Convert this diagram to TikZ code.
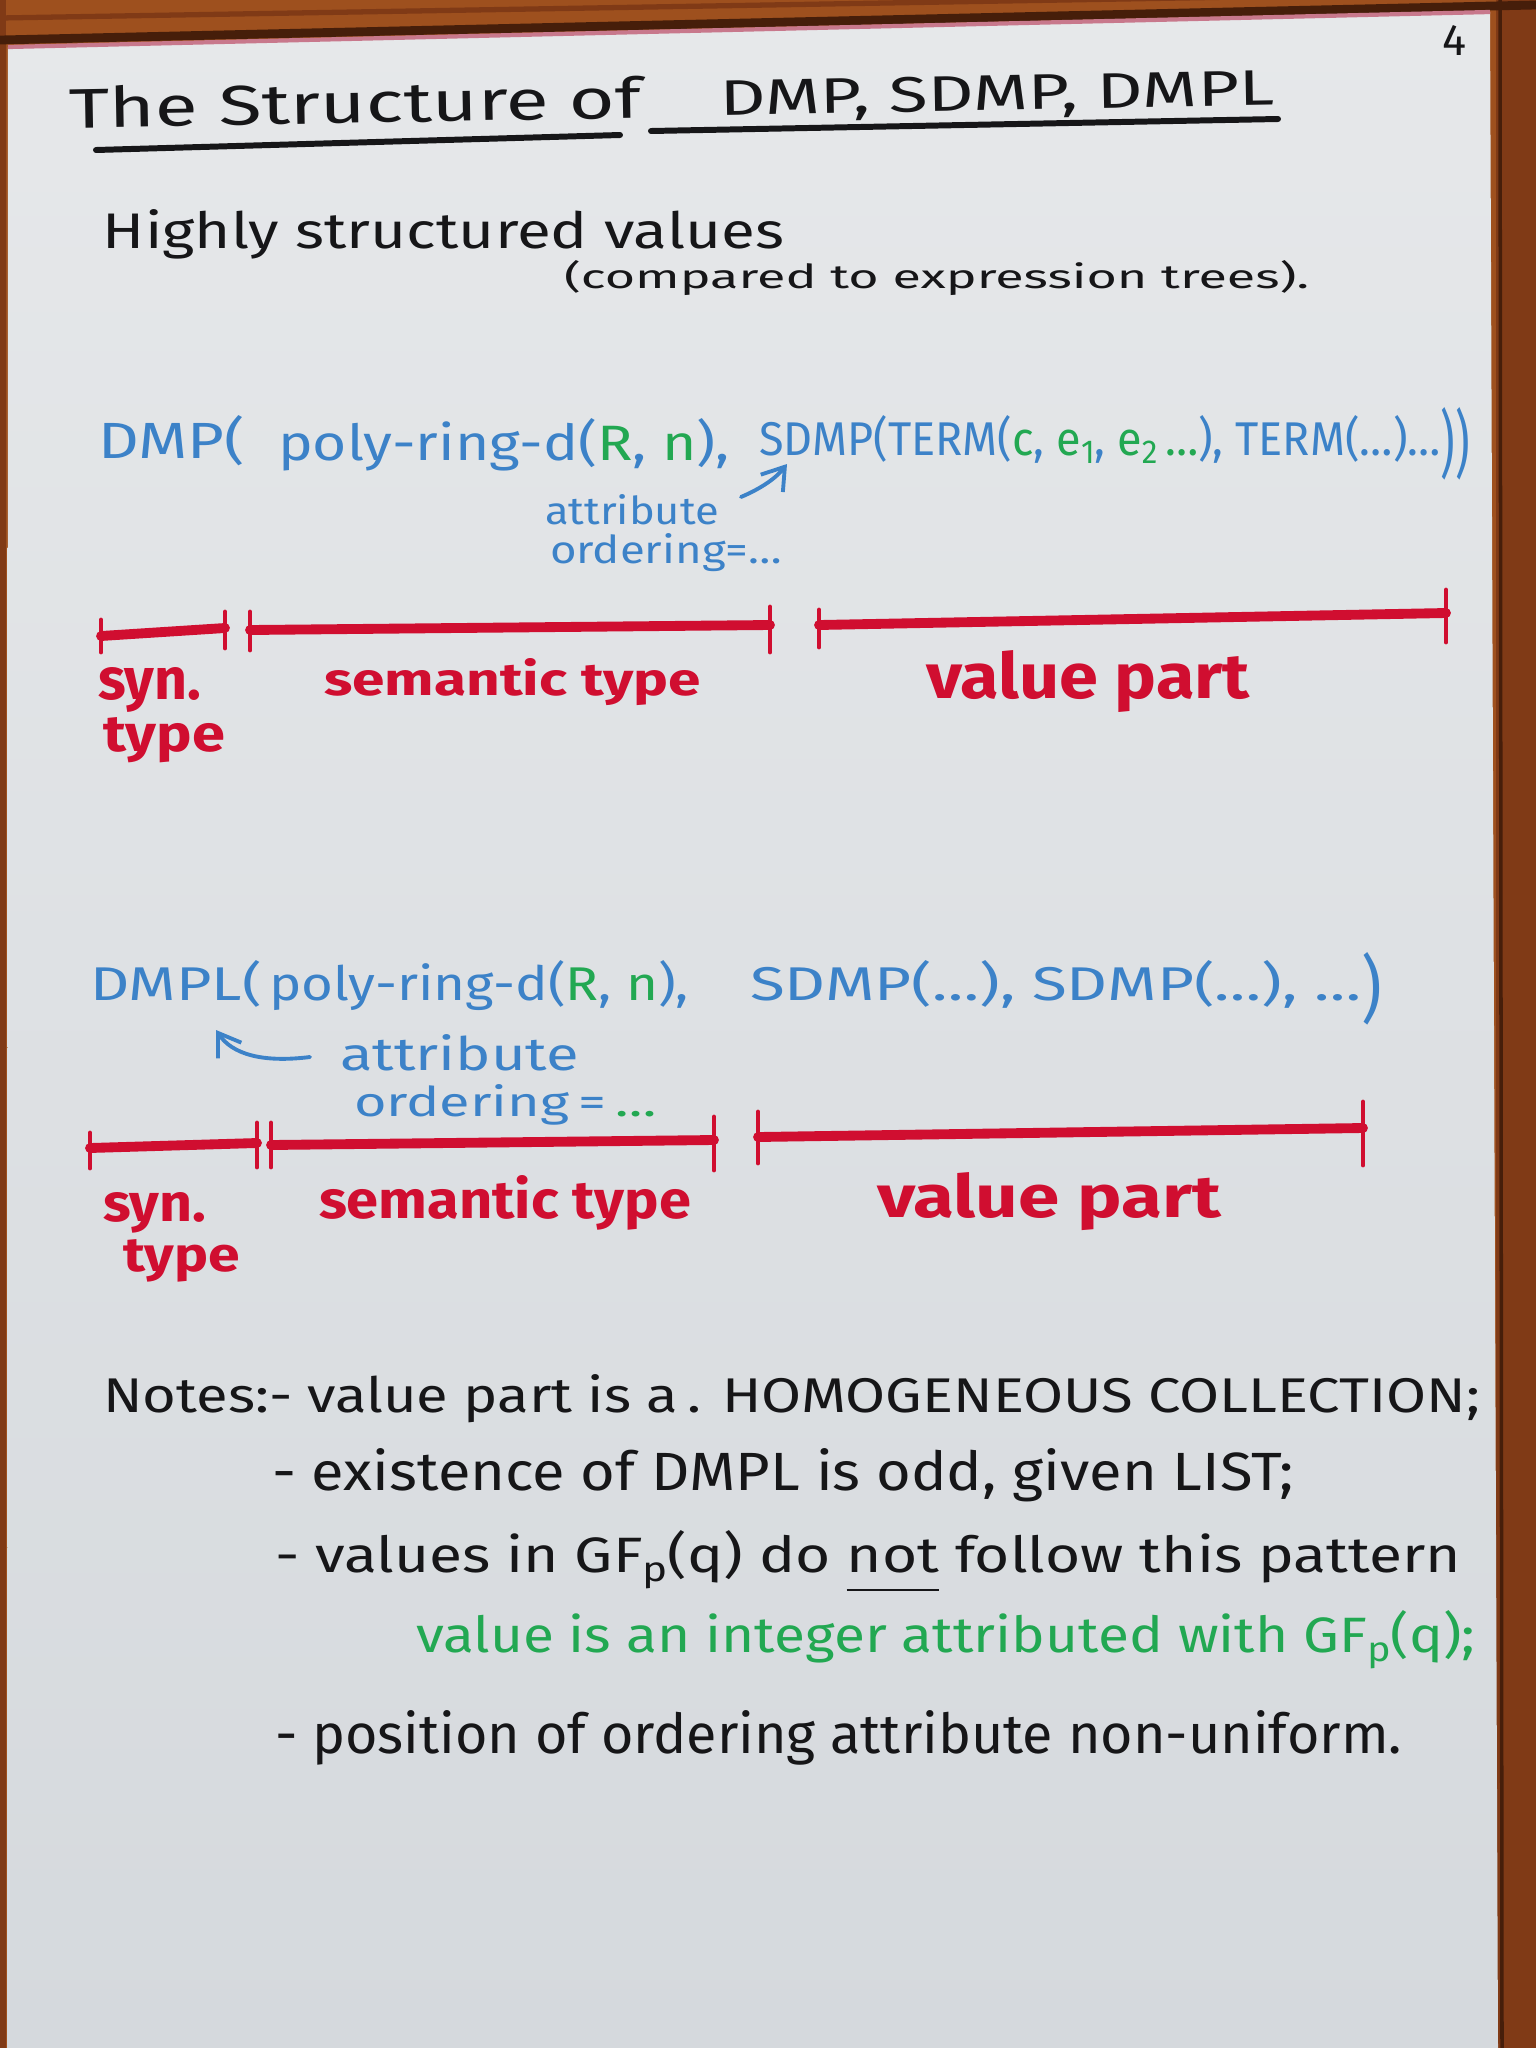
\documentclass[tikz,border=0pt]{standalone}
\usepackage{fontspec}
\setmainfont{Fira Sans}
\usepackage{graphicx}
\usetikzlibrary{arrows.meta}

% one picture unit in TeX lengths
\newlength\pxu
\setlength\pxu{0.01cm}
% set a piece of text to a given width and height (picture units)
\newcommand\inkbox[3]{\resizebox{#1\pxu}{#2\pxu}{#3}}
\newcommand\lowsub[1]{\raisebox{-0.35ex}{\scriptsize #1}}
% tall closing brackets that do not change the line height
\newcommand\tallclose[1]{\smash{\raisebox{-0.3em}{\scalebox{1}[1.55]{#1}}}}

\definecolor{paperhi}{RGB}{230,232,234}
\definecolor{paperlo}{RGB}{213,217,221}
\definecolor{woodA}{RGB}{158,80,30}
\definecolor{woodB}{RGB}{128,58,22}
\definecolor{woodC}{RGB}{70,30,10}
\definecolor{edgepink}{RGB}{200,120,140}
\definecolor{inkblack}{RGB}{22,22,24}
\definecolor{inkblue}{RGB}{60,130,200}
\definecolor{inkgreen}{RGB}{34,168,82}
\definecolor{inkred}{RGB}{208,14,48}
\newcommand\gr[1]{\textcolor{inkgreen}{#1}}

\begin{document}
\begin{tikzpicture}[x=0.01cm,y=-0.01cm,
  txt/.style={anchor=base west, inner sep=0pt, outer sep=0pt},
  black ink/.style={txt, text=inkblack},
  blue ink/.style={txt, text=inkblue},
  green ink/.style={txt, text=inkgreen},
  red ink/.style={txt, text=inkred, font=\bfseries},
  rule/.style={draw=inkblack, line width=1.7pt, line cap=round},
  bar/.style={draw=inkred, line width=2.8pt, line cap=round},
  tick/.style={draw=inkred, line width=1.4pt, line cap=round},
  pointer/.style={draw=inkblue, line width=1.1pt, line cap=round,
    -{Straight Barb[length=6pt,width=8pt,line width=1.1pt]}}
]
\useasboundingbox (0,0) rectangle (1536,2048);

% wooden board behind the sheet
\fill[woodA] (0,0) rectangle (1536,2048);
\fill[woodB] (1496,0) rectangle (1536,2048);
\fill[woodB] (0,0) rectangle (6,2048);
\draw[woodC, line width=2.5pt] (0,40) -- (1536,5);
\draw[woodB, line width=1.5pt] (0,18) -- (1536,-8);
\draw[woodC, line width=1pt] (1500,0) -- (1502,2048);

% the sheet
\shade[top color=paperhi, bottom color=paperlo]
  (8,47) -- (1490,12) -- (1498,2048) -- (7,2048) -- cycle;
\draw[edgepink, line width=1.2pt] (8,47) -- (1490,12);

% page number and title
\node[black ink] (pageno) at (1442,55) {\inkbox{24}{30}{4}};
\node[black ink, rotate=1] (title1) at (69,128) {\inkbox{573}{42}{The Structure of}};
\node[black ink, rotate=1] (title2) at (720,115) {\inkbox{555}{35}{DMP, SDMP, DMPL}};
\coordinate (ul1a) at (96,150);  \coordinate (ul1b) at (620,135);
\coordinate (ul2a) at (651,131); \coordinate (ul2b) at (1278,119);
\draw[rule] (ul1a) -- (ul1b);
\draw[rule] (ul2a) -- (ul2b);

\node[black ink] (hsv) at (103,248) {\inkbox{681}{39}{Highly structured values}};
\node[black ink] (cmp) at (564,288) {\inkbox{745}{28}{(compared to expression trees).}};

% first example: DMP
\node[blue ink] (dmp) at (98,458) {\inkbox{147}{43}{DMP(}};
\node[blue ink] (ring1) at (278,460) {\inkbox{452}{42}{poly-ring-d(\gr{R}, \gr{n}),}};
\node[blue ink] (sdmp) at (759,455) {\inkbox{711}{40}{SDMP(TERM(\gr{c}, \gr{e\lowsub{1}}, \gr{e\lowsub{2}\,\ldots}), TERM(\ldots)\ldots\tallclose{))}}};
\node[blue ink] (attr1) at (545,524) {\inkbox{174}{30}{attribute}};
\node[blue ink] (ord1) at (550,563) {\inkbox{232}{30}{ordering=\ldots}};
\coordinate (p1tail) at (741,497);
\coordinate (p1head) at (787,464);
\draw[pointer] (p1tail) .. controls (762,488) and (776,478) .. (p1head);

% first bracket row
\draw[bar] (101,636) -- (225,628);
\draw[tick] (101,620) -- (101,652);
\draw[tick] (225,612) -- (225,648);
\draw[bar] (250,630) -- (770,625);
\draw[tick] (250,612) -- (250,650);
\draw[tick] (770,607) -- (770,652);
\draw[bar] (819,625) -- (1446,613);
\draw[tick] (819,610) -- (819,647);
\draw[tick] (1446,590) -- (1446,642);

\node[red ink] (syn1) at (98,699) {\inkbox{103}{32}{syn.}};
\node[red ink] (typ1) at (103,751) {\inkbox{122}{34}{type}};
\node[red ink] (sem1) at (324,695) {\inkbox{377}{37}{semantic type}};
\node[red ink] (val1) at (926,698) {\inkbox{324}{48}{value part}};

% second example: DMPL
\node[blue ink] (dmpl) at (90,1000) {\inkbox{172}{40}{DMPL(}};
\node[blue ink] (ring2) at (269,1000) {\inkbox{420}{40}{poly-ring-d(\gr{R}, \gr{n}),}};
\node[blue ink] (sdmps) at (750,1000) {\inkbox{632}{40}{SDMP(\ldots), SDMP(\ldots), \ldots\tallclose{)}}};
\node[blue ink] (attr2) at (340,1070) {\inkbox{239}{36}{attribute}};
\node[blue ink] (ord2) at (354,1116) {\inkbox{303}{32}{ordering\,=\,\gr{\ldots}}};
\coordinate (p2tail) at (310,1057);
\coordinate (p2head) at (216,1030);
\draw[pointer] (p2tail) .. controls (262,1063) and (232,1054) .. (p2head);

% second bracket row
\draw[bar] (90,1148) -- (257,1143);
\draw[tick] (90,1133) -- (90,1168);
\draw[tick] (257,1123) -- (257,1167);
\draw[bar] (271,1145) -- (714,1140);
\draw[tick] (271,1123) -- (271,1167);
\draw[tick] (714,1117) -- (714,1170);
\draw[bar] (758,1137) -- (1363,1128);
\draw[tick] (758,1112) -- (758,1163);
\draw[tick] (1363,1102) -- (1363,1165);

\node[red ink] (syn2) at (103,1221) {\inkbox{103}{29}{syn.}};
\node[red ink] (typ2) at (123,1271) {\inkbox{117}{32}{type}};
\node[red ink] (sem2) at (319,1218) {\inkbox{372}{43}{semantic type}};
\node[red ink] (val2) at (877,1217) {\inkbox{344}{45}{value part}};

% notes
\node[black ink] (note1) at (103,1412) {\inkbox{1377}{38}{Notes:- value part is a\,. HOMOGENEOUS COLLECTION;}};
\node[black ink] (note2) at (272,1490) {\inkbox{1022}{42}{- existence of DMPL is odd, given LIST;}};
\node[black ink] (note3) at (275,1572) {\inkbox{1186}{42}{- values in GF\lowsub{p}(q) do \underline{\vphantom{p}not} follow this pattern}};
\node[green ink] (note3b) at (416,1652) {\inkbox{1059}{42}{value is an integer attributed with GF\lowsub{p}(q);}};
\node[black ink] (note4) at (275,1753) {\inkbox{1127}{43}{- position of ordering attribute non-uniform.}};
\end{tikzpicture}
\end{document}
